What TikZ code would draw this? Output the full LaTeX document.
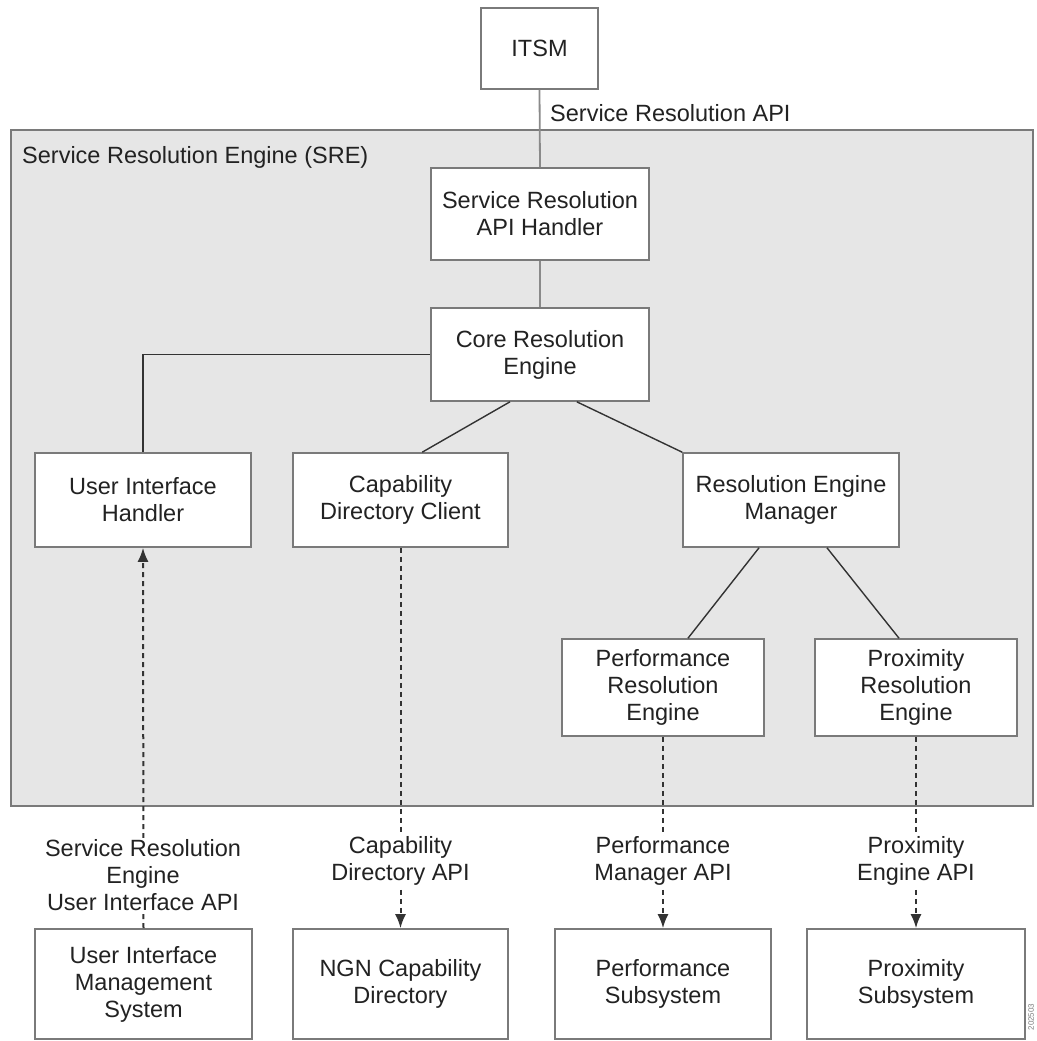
\documentclass[tikz,border=0pt]{standalone}
\usepackage{fontspec}
\setmainfont{Liberation Sans}
\usetikzlibrary{arrows.meta}
\definecolor{boxline}{HTML}{7A7A7A}
\definecolor{sreFill}{HTML}{E6E6E6}
\definecolor{txt}{HTML}{222222}
\definecolor{darkline}{HTML}{333333}
\definecolor{grayline}{HTML}{8A8A8A}
\begin{document}
\begin{tikzpicture}[x=1bp,y=-1bp,
  every node/.style={text=txt, font=\fontsize{23.5bp}{27bp}\selectfont},
  blk/.style={draw=boxline, line width=1.6bp, fill=white, align=center, inner sep=0pt},
  lbl/.style={fill=white, align=center, inner sep=1bp},
  solidconn/.style={draw=darkline, line width=1.4bp},
  grayconn/.style={draw=grayline, line width=1.8bp},
  dsh/.style={draw=darkline, line width=2bp, dash pattern=on 5bp off 4bp, -{Latex[length=14bp,width=11bp]}}
]
\useasboundingbox (0,0) rectangle (1037,1041);
\fill[white] (0,0) rectangle (1037,1041);
% SRE container
\draw[draw=boxline, fill=sreFill, line width=1.6bp] (11,130) rectangle (1033,806);
\node[anchor=west, inner sep=0pt] (sretitle) at (22,157) {Service Resolution Engine (SRE)};
\node[anchor=west, inner sep=0pt] (apilbl) at (550,113) {Service Resolution API};

% boxes
\node[blk, minimum width=117bp, minimum height=81bp] (itsm) at (539.5,48.5) {ITSM};
\node[blk, minimum width=218bp, minimum height=92bp] (api) at (540,214) {Service Resolution\\API Handler};
\node[blk, minimum width=218bp, minimum height=93bp] (core) at (540,354.5) {Core Resolution\\Engine};
\node[blk, minimum width=216bp, minimum height=94bp] (uih) at (143,500) {User Interface\\Handler};
\node[blk, minimum width=215bp, minimum height=94bp] (cdc) at (400.5,500) {Capability\\Directory Client};
\node[blk, minimum width=216bp, minimum height=94bp] (rem) at (791,500) {Resolution Engine\\Manager};
\node[blk, minimum width=202bp, minimum height=97bp] (pre) at (663,687.5) {Performance\\Resolution\\Engine};
\node[blk, minimum width=202bp, minimum height=97bp] (pxre) at (916,687.5) {Proximity\\Resolution\\Engine};

\node[blk, minimum width=217bp, minimum height=110bp] (uims) at (143.5,984) {User Interface\\Management\\System};
\node[blk, minimum width=215bp, minimum height=110bp] (ngn) at (400.5,984) {NGN Capability\\Directory};
\node[blk, minimum width=216bp, minimum height=110bp] (ps) at (663,984) {Performance\\Subsystem};
\node[blk, minimum width=218bp, minimum height=110bp] (pxs) at (916,984) {Proximity\\Subsystem};

% connectors
\draw[grayconn] (itsm.south) -- (api.north);
\draw[grayconn] (api.south) -- (core.north);
\draw[solidconn] (core.west) -| (uih.north);
\draw[solidconn] ([xshift=-30bp]core.south) -- ([xshift=130bp]cdc.north west);
\draw[solidconn] ([xshift=-73bp]core.south east) -- (rem.north west);
\draw[solidconn] ([xshift=-32bp]rem.south) -- ([xshift=25bp]pre.north);
\draw[solidconn] ([xshift=36bp]rem.south) -- ([xshift=-17bp]pxre.north);

% dashed API links
\draw[dsh] (uims.north) -- (uih.south);
\draw[dsh] (cdc.south) -- (ngn.north);
\draw[dsh] (pre.south) -- (ps.north);
\draw[dsh] (pxre.south) -- (pxs.north);

\node[lbl] (l1) at (143,875) {Service Resolution\\Engine\\User Interface API};
\node[lbl] (l2) at (400.5,861) {Capability\\Directory API};
\node[lbl] (l3) at (663,861) {Performance\\Manager API};
\node[lbl] (l4) at (916,861) {Proximity\\Engine API};

\node[rotate=90, font=\fontsize{8bp}{9bp}\selectfont, text=gray, inner sep=0pt] (figid) at (1031,1017) {202503};
\end{tikzpicture}
\end{document}
